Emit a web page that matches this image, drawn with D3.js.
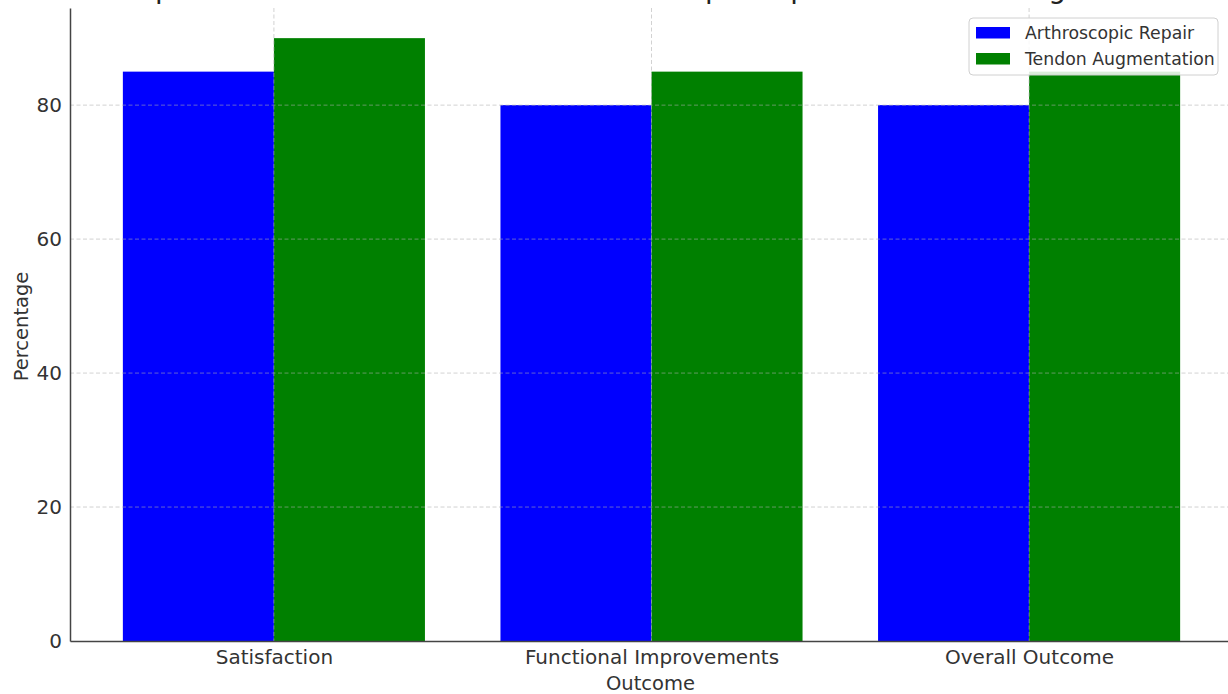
<!DOCTYPE html>
<html>
<head>
<meta charset="utf-8">
<script src="https://cdn.jsdelivr.net/npm/d3@7"></script>
<style>
  html, body { margin: 0; padding: 0; background: #fff; overflow: hidden; }
  svg { display: block; font-family: "DejaVu Sans", sans-serif; }
</style>
</head>
<body>
<svg id="chart" width="1228" height="694"></svg>
<script>
// Outcome categories and the two treatment series (percent)
const categories = ["Satisfaction", "Functional Improvements", "Overall Outcome"];
const arthroscopicRepair = [85, 80, 80];
const tendonAugmentation = [90, 85, 85];
const seriesNames = ["Arthroscopic Repair", "Tendon Augmentation"];
const seriesColors = ["#0000ff", "#008000"];
const yTicks = [0, 20, 40, 60, 80];
const titleText = "Comparison of Patient Outcomes: Arthroscopic Repair vs. Tendon Augmentation";

const svg = d3.select("#chart");
const plot = { left: 70, right: 1233, top: 8, bottom: 641 };

// Numeric x scale over category index, with matplotlib-style padding
const barWidth = 0.4;
const x = d3.scaleLinear().domain([-0.54, 2.54]).range([plot.left, plot.right]);
const y = d3.scaleLinear().domain([0, 94.5]).range([plot.bottom, plot.top]);

const series = [arthroscopicRepair, tendonAugmentation];
const offsets = [-barWidth / 2, barWidth / 2];

// Bars
series.forEach((vals, si) => {
  svg.append("g").selectAll("rect")
    .data(vals)
    .join("rect")
    .attr("x", (d, i) => x(i + offsets[si] - barWidth / 2))
    .attr("width", (d, i) => x(i + offsets[si] + barWidth / 2) - x(i + offsets[si] - barWidth / 2))
    .attr("y", d => y(d))
    .attr("height", d => y(0) - y(d))
    .attr("fill", seriesColors[si]);
});

// Dashed grid drawn over the bars
const grid = svg.append("g").attr("stroke", "#b0b0b0").attr("stroke-dasharray", "4,2.5")
  .attr("stroke-width", 0.8).attr("opacity", 0.7);
grid.selectAll("line.h").data(yTicks.filter(t => t > 0)).join("line")
  .attr("x1", plot.left).attr("x2", plot.right)
  .attr("y1", d => y(d)).attr("y2", d => y(d));
grid.selectAll("line.v").data(categories.map((c, i) => i)).join("line")
  .attr("x1", d => x(d)).attr("x2", d => x(d))
  .attr("y1", plot.top).attr("y2", plot.bottom);

// Axes
const yAxis = d3.axisLeft(y).tickValues(yTicks).tickSize(0).tickPadding(8);
const gy = svg.append("g").attr("transform", `translate(${plot.left},0)`).call(yAxis);
gy.select(".domain").attr("stroke", "#444").attr("stroke-width", 1.5);
gy.selectAll("text").attr("font-size", 20).attr("fill", "#333").attr("font-family", "DejaVu Sans");

const xAxis = d3.axisBottom(x).tickValues([0, 1, 2]).tickFormat(i => categories[i]).tickSize(0).tickPadding(9);
const gx = svg.append("g").attr("transform", `translate(0,${plot.bottom})`).call(xAxis);
gx.select(".domain").attr("stroke", "#444").attr("stroke-width", 1.5);
gx.selectAll("text").attr("font-size", 20).attr("fill", "#333").attr("font-family", "DejaVu Sans");

// Axis labels
svg.append("text")
  .attr("x", (plot.left + plot.right) / 2 - 1).attr("y", 690)
  .attr("text-anchor", "middle").attr("font-size", 19.5).attr("fill", "#333")
  .text("Outcome");
svg.append("text")
  .attr("transform", `translate(28,${(plot.top + plot.bottom) / 2 + 2}) rotate(-90)`)
  .attr("text-anchor", "middle").attr("font-size", 19.5).attr("fill", "#333")
  .text("Percentage");

// Title, sitting just above the plot area
svg.append("text")
  .attr("x", (plot.left + plot.right) / 2 - 1).attr("y", -2)
  .attr("text-anchor", "middle").attr("font-size", 28).attr("fill", "#222")
  .text(titleText);

// Legend
const legend = svg.append("g").attr("transform", "translate(969,18)");
legend.append("rect").attr("width", 249).attr("height", 57).attr("rx", 4)
  .attr("fill", "#fff").attr("fill-opacity", 0.85).attr("stroke", "#d0d0d0");
seriesNames.forEach((name, i) => {
  const row = legend.append("g").attr("transform", `translate(0,${9 + i * 26})`);
  row.append("rect").attr("x", 7).attr("width", 34).attr("height", 11.5).attr("fill", seriesColors[i]);
  row.append("text").attr("x", 56).attr("y", 11.5).attr("font-size", 17.3).attr("fill", "#333").text(name);
});
</script>
</body>
</html>
